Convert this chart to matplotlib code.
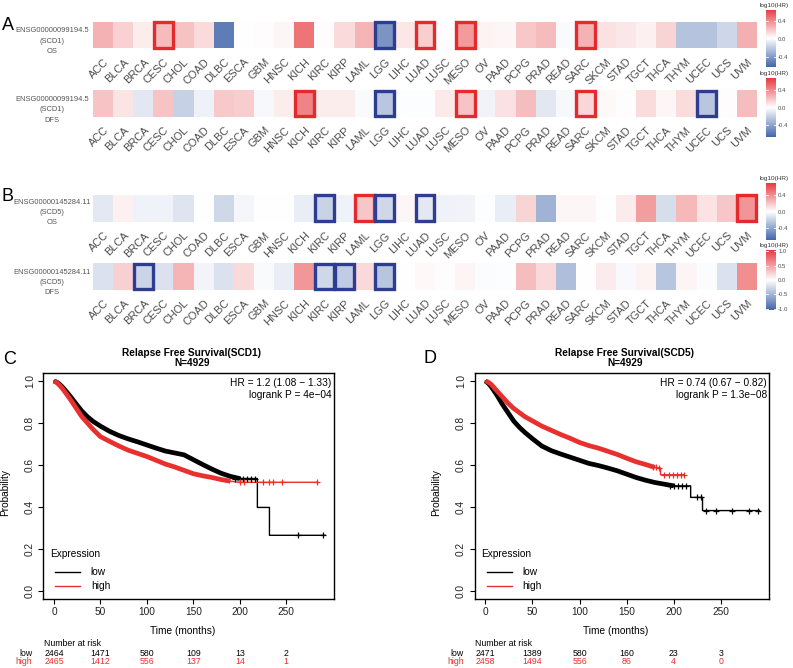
import matplotlib
matplotlib.use("Agg")
import matplotlib.pyplot as plt
import numpy as np
from matplotlib.colors import LinearSegmentedColormap
from matplotlib.patches import Rectangle

plt.rcParams['font.family'] = ['Liberation Sans', 'DejaVu Sans']

W, H = 793, 668

cancers = ["ACC", "BLCA", "BRCA", "CESC", "CHOL", "COAD", "DLBC", "ESCA", "GBM", "HNSC",
           "KICH", "KIRC", "KIRP", "LAML", "LGG", "LIHC", "LUAD", "LUSC", "MESO", "OV",
           "PAAD", "PCPG", "PRAD", "READ", "SARC", "SKCM", "STAD", "TGCT", "THCA", "THYM",
           "UCEC", "UCS", "UVM"]

# log10(HR) per cancer type
scd1_os = [0.25, 0.15, 0.06, 0.22, 0.20, 0.12, -0.55, 0.0, 0.01, 0.03,
           0.45, 0.01, 0.12, 0.24, -0.45, 0.08, 0.16, 0.01, 0.33, 0.04,
           0.03, 0.18, 0.22, -0.02, 0.25, 0.10, 0.08, 0.05, 0.14, -0.25,
           -0.25, -0.17, 0.26]
scd1_dfs = [0.20, 0.09, -0.10, 0.20, -0.20, -0.06, 0.18, 0.17, -0.03, 0.06,
            0.42, 0.06, 0.06, -0.02, -0.25, -0.01, -0.01, 0.07, 0.20, -0.05,
            0.10, 0.22, -0.10, -0.03, 0.14, 0.02, 0.01, 0.12, 0.03, 0.12,
            -0.25, 0.01, 0.22]
scd5_os = [-0.10, 0.05, -0.06, -0.06, -0.12, 0.0, -0.18, -0.04, 0.0, 0.0,
           -0.08, -0.20, -0.06, 0.20, -0.18, 0.03, -0.10, -0.06, -0.05, -0.01,
           -0.08, 0.15, -0.35, 0.03, 0.03, 0.0, 0.07, 0.35, -0.15, 0.25,
           0.10, 0.20, 0.38]
scd5_dfs = [-0.20, 0.25, -0.28, -0.20, 0.40, -0.07, -0.20, 0.20, -0.03, -0.12,
            0.55, -0.27, -0.35, 0.20, -0.40, 0.0, 0.04, 0.01, 0.05, -0.02,
            -0.01, 0.35, 0.20, -0.45, 0.0, 0.10, -0.04, 0.06, -0.40, 0.05,
            -0.02, -0.20, 0.60]

scd1_os_sig = ["CESC", "LGG", "LUAD", "MESO", "SARC"]
scd1_dfs_sig = ["KICH", "LGG", "MESO", "SARC", "UCEC"]
scd5_os_sig = ["KIRC", "LAML", "LGG", "LUAD", "UVM"]
scd5_dfs_sig = ["BRCA", "KIRC", "KIRP", "LGG"]

# Kaplan-Meier curves (time in months, survival probability)
c_low_t = [0, 3, 6, 9, 12, 18, 24, 30, 36, 42, 50, 60, 70, 80, 90, 100, 110, 120, 130, 140,
           150, 160, 170, 180, 190, 200, 219, 219, 232, 232, 292]
c_low_p = [1.0, 0.995, 0.985, 0.972, 0.957, 0.925, 0.89, 0.857, 0.83, 0.808, 0.785, 0.76,
           0.74, 0.724, 0.71, 0.695, 0.68, 0.666, 0.657, 0.648, 0.625, 0.602, 0.58, 0.56,
           0.545, 0.535, 0.535, 0.397, 0.397, 0.264, 0.264]
c_high_t = [0, 3, 6, 9, 12, 18, 24, 30, 36, 42, 50, 60, 70, 80, 90, 100, 110, 120, 130, 140,
            150, 160, 170, 180, 190, 200, 283]
c_high_p = [1.0, 0.993, 0.98, 0.965, 0.947, 0.91, 0.87, 0.83, 0.80, 0.77, 0.735, 0.712, 0.69,
            0.67, 0.655, 0.64, 0.622, 0.604, 0.59, 0.574, 0.558, 0.548, 0.54, 0.53, 0.522,
            0.517, 0.517]
c_low_cens_t = [195, 200, 204, 208, 212, 216, 263, 290]
c_low_cens_p = [0.535, 0.535, 0.535, 0.535, 0.535, 0.535, 0.264, 0.264]
c_high_cens_t = [200, 205, 225, 231, 236, 246, 283]
c_high_cens_p = [0.517, 0.517, 0.517, 0.517, 0.517, 0.517, 0.517]

d_low_t = [0, 3, 6, 9, 12, 18, 24, 30, 36, 42, 50, 60, 70, 80, 90, 100, 110, 120, 130, 140,
           150, 160, 170, 180, 190, 200, 218, 218, 230.6, 230.6, 291]
d_low_p = [1.0, 0.99, 0.975, 0.955, 0.935, 0.89, 0.85, 0.81, 0.78, 0.755, 0.725, 0.69,
           0.668, 0.652, 0.637, 0.622, 0.607, 0.597, 0.585, 0.572, 0.556, 0.54, 0.527,
           0.516, 0.508, 0.50, 0.50, 0.445, 0.445, 0.382, 0.382]
d_high_t = [0, 3, 6, 9, 12, 18, 24, 30, 36, 42, 50, 60, 70, 80, 90, 100, 110, 120, 130, 140,
            150, 160, 170, 180, 186, 186, 211]
d_high_p = [1.0, 0.995, 0.985, 0.97, 0.955, 0.925, 0.895, 0.87, 0.85, 0.83, 0.81, 0.785,
            0.765, 0.745, 0.727, 0.707, 0.692, 0.68, 0.665, 0.65, 0.632, 0.615, 0.602,
            0.588, 0.585, 0.553, 0.553]
d_low_cens_t = [196, 200, 205, 209, 213, 224.5, 228.8, 234, 245, 262, 280, 290]
d_low_cens_p = [0.50, 0.50, 0.50, 0.50, 0.50, 0.445, 0.445, 0.382, 0.382, 0.382, 0.382, 0.382]
d_high_cens_t = [177.5, 181, 184.5, 190, 194.5, 198.8, 203, 207.6, 211]
d_high_cens_p = [0.588, 0.588, 0.585, 0.553, 0.553, 0.553, 0.553, 0.553, 0.553]

risk_times = [0, 50, 100, 150, 200, 250]
c_risk_low = [2464, 1471, 580, 109, 13, 2]
c_risk_high = [2465, 1412, 556, 137, 14, 1]
d_risk_low = [2471, 1389, 580, 160, 23, 3]
d_risk_high = [2458, 1494, 556, 86, 4, 0]

RED = "#e8302e"
BOX_RED = "#e52a2e"
BOX_BLUE = "#2e3d8f"
cmap = LinearSegmentedColormap.from_list("hr", ["#4467ab", "#ffffff", "#e63b40"])

fig = plt.figure(figsize=(W / 100, H / 100), dpi=100)


def frac(x0, y0, x1, y1):
    return [x0 / W, 1 - y1 / H, (x1 - x0) / W, (y1 - y0) / H]


def ftext(x, y, s, **kw):
    fig.text(x / W, 1 - y / H, s, **kw)


def heat_row(vals, sig, lim, top, bottom, gene, short, kind, label_y):
    ax = fig.add_axes(frac(93.3, top, 756.7, bottom))
    ax.imshow(np.array(vals)[None, :], cmap=cmap, vmin=-lim, vmax=lim, aspect="auto",
              extent=(-0.5, len(vals) - 0.5, 0.5, -0.5), interpolation="nearest")
    for name in sig:
        i = cancers.index(name)
        col = BOX_RED if vals[i] > 0 else BOX_BLUE
        ax.add_patch(Rectangle((i - 0.465, -0.475), 0.93, 0.95, fill=False, ec=col,
                               lw=2.4, clip_on=False, zorder=3))
    ax.set_xticks(range(len(cancers)))
    ax.set_xticklabels(cancers, rotation=45, ha="right", va="top", rotation_mode="anchor",
                       fontsize=7.9, color="#4d4d4d")
    ax.tick_params(axis="x", length=0, pad=6)
    ax.set_yticks([])
    ax.set_xlim(-0.5, len(vals) - 0.5)
    for s in ax.spines.values():
        s.set_visible(False)
    for k, txt in enumerate([gene, "(" + short + ")", kind]):
        ftext(52, label_y + k * 10.3, txt, ha="center", va="center", fontsize=5.4,
              color="#555555")


def colorbar(top, bottom, lim, ticks, labels):
    cax = fig.add_axes(frac(766, top, 776, bottom))
    grad = np.linspace(lim, -lim, 200)[:, None]
    cax.imshow(grad, cmap=cmap, vmin=-lim, vmax=lim, aspect="auto", extent=(0, 1, -lim, lim))
    for t in ticks:
        cax.plot([0, 0.2], [t, t], color="white", lw=0.6)
        cax.plot([0.8, 1], [t, t], color="white", lw=0.6)
    cax.set_xlim(0, 1)
    cax.set_ylim(-lim, lim)
    cax.yaxis.tick_right()
    cax.set_yticks(ticks)
    cax.set_yticklabels(labels, fontsize=4.3, color="#4d4d4d")
    cax.tick_params(axis="y", length=0, pad=1.5)
    cax.set_xticks([])
    for s in cax.spines.values():
        s.set_visible(False)
    ftext(774, top - 5, "log10(HR)", ha="center", va="center", fontsize=4.6, color="#333333")


heat_row(scd1_os, scd1_os_sig, 0.645, 21.7, 48.3, "ENSG00000099194.5", "SCD1", "OS", 31)
heat_row(scd1_dfs, scd1_dfs_sig, 0.67, 90, 116.7, "ENSG00000099194.5", "SCD1", "DFS", 99.5)
heat_row(scd5_os, scd5_os_sig, 0.71, 194.7, 222, "ENSG00000145284.11", "SCD5", "OS", 202)
heat_row(scd5_dfs, scd5_dfs_sig, 1.05, 263, 289.7, "ENSG00000145284.11", "SCD5", "DFS", 272)

colorbar(10, 67.5, 0.645, [0.4, 0.0, -0.4], ["0.4", "0.0", "-0.4"])
colorbar(78, 137, 0.67, [0.4, 0.0, -0.4], ["0.4", "0.0", "-0.4"])
colorbar(183, 240, 0.71, [0.4, 0.0, -0.4], ["0.4", "0.0", "-0.4"])
colorbar(250, 310, 1.05, [1.0, 0.5, 0.0, -0.5, -1.0], ["1.0", "0.5", "0.0", "-0.5", "-1.0"])


def km_panel(x0, x1, title, hr_txt, p_txt, low_t, low_p, high_t, high_p,
             low_dense, high_dense, low_ct, low_cp, high_ct, high_cp, risk_low, risk_high):
    ax = fig.add_axes(frac(x0, 372.7, x1, 599))
    ax.set_xlim(-11.5, 301.5)
    ax.set_ylim(-0.04, 1.04)
    lt, lp = np.array(low_t), np.array(low_p)
    ht, hp = np.array(high_t), np.array(high_p)
    ax.plot(lt, lp, color="black", lw=1.0)
    ax.plot(ht, hp, color=RED, lw=1.0)
    m = lt <= low_dense
    ax.plot(lt[m], lp[m], color="black", lw=3.4, solid_capstyle="butt")
    m = ht <= high_dense
    ax.plot(ht[m], hp[m], color=RED, lw=3.4, solid_capstyle="butt")
    ax.plot(low_ct, low_cp, ls="none", marker="+", ms=5, mew=0.9, color="black")
    ax.plot(high_ct, high_cp, ls="none", marker="+", ms=5, mew=0.9, color=RED)

    ax.set_xticks(risk_times)
    ax.set_xticklabels([str(t) for t in risk_times], fontsize=7.3, color="#222222")
    ax.set_yticks([0.0, 0.2, 0.4, 0.6, 0.8, 1.0])
    ax.set_yticklabels(["0.0", "0.2", "0.4", "0.6", "0.8", "1.0"], rotation=90, va="center",
                       fontsize=7.3, color="#222222")
    ax.tick_params(length=3.6, width=0.8, pad=2.5)
    for s in ax.spines.values():
        s.set_linewidth(1.0)

    xc = (x0 + x1) / 2
    ftext(xc + 3, 352.7, title, ha="center", va="center", fontsize=7.3, fontweight="bold")
    ftext(xc + 3, 363.5, "N=4929", ha="center", va="center", fontsize=7.3, fontweight="bold")
    ftext(x1 - 2.5, 383, hr_txt, ha="right", va="center", fontsize=7.3)
    ftext(x1 - 2.5, 394.5, p_txt, ha="right", va="center", fontsize=7.3)
    ftext(xc - 6, 631, "Time (months)", ha="center", va="center", fontsize=7.3)
    ftext(x0 - 38, 492, "Probability", ha="center", va="center", rotation=90, fontsize=7.3)

    # legend
    ftext(x0 + 7, 554.3, "Expression", ha="left", va="center", fontsize=7.3)
    lx0 = x0 + 12
    fig.add_artist(plt.Line2D([lx0 / W, (lx0 + 25) / W], [1 - 572.3 / H] * 2, color="black", lw=1.0))
    fig.add_artist(plt.Line2D([lx0 / W, (lx0 + 25) / W], [1 - 585.7 / H] * 2, color=RED, lw=1.0))
    ftext(lx0 + 35.5, 572.3, "low", ha="left", va="center", fontsize=7.3)
    ftext(lx0 + 35.5, 585.7, "high", ha="left", va="center", fontsize=7.3)

    # number at risk
    ftext(x0 + 0.5, 643, "Number at risk", ha="left", va="center", fontsize=6.3)
    ftext(x0 - 11, 653, "low", ha="right", va="center", fontsize=6.3)
    ftext(x0 - 11, 662, "high", ha="right", va="center", fontsize=6.3, color=RED)
    for t, a, b in zip(risk_times, risk_low, risk_high):
        xd = x0 + (t + 11.5) / 313.0 * (x1 - x0)
        ftext(xd, 653, str(a), ha="center", va="center", fontsize=6.3)
        ftext(xd, 662, str(b), ha="center", va="center", fontsize=6.3, color=RED)
    return ax


km_panel(43.3, 334, "Relapse Free Survival(SCD1)", "HR = 1.2 (1.08 \u2212 1.33)",
         "logrank P = 4e\u221204", c_low_t, c_low_p, c_high_t, c_high_p, 200, 195,
         c_low_cens_t, c_low_cens_p, c_high_cens_t, c_high_cens_p, c_risk_low, c_risk_high)
km_panel(474.5, 769.3, "Relapse Free Survival(SCD5)", "HR = 0.74 (0.67 \u2212 0.82)",
         "logrank P = 1.3e\u221208", d_low_t, d_low_p, d_high_t, d_high_p, 200, 180,
         d_low_cens_t, d_low_cens_p, d_high_cens_t, d_high_cens_p, d_risk_low, d_risk_high)

ftext(7.5, 25, "A", ha="center", va="center", fontsize=13)
ftext(7.5, 196.5, "B", ha="center", va="center", fontsize=13)
ftext(10, 360, "C", ha="center", va="center", fontsize=13)
ftext(430, 358.3, "D", ha="center", va="center", fontsize=13)

fig.savefig("out.png", dpi=100)
